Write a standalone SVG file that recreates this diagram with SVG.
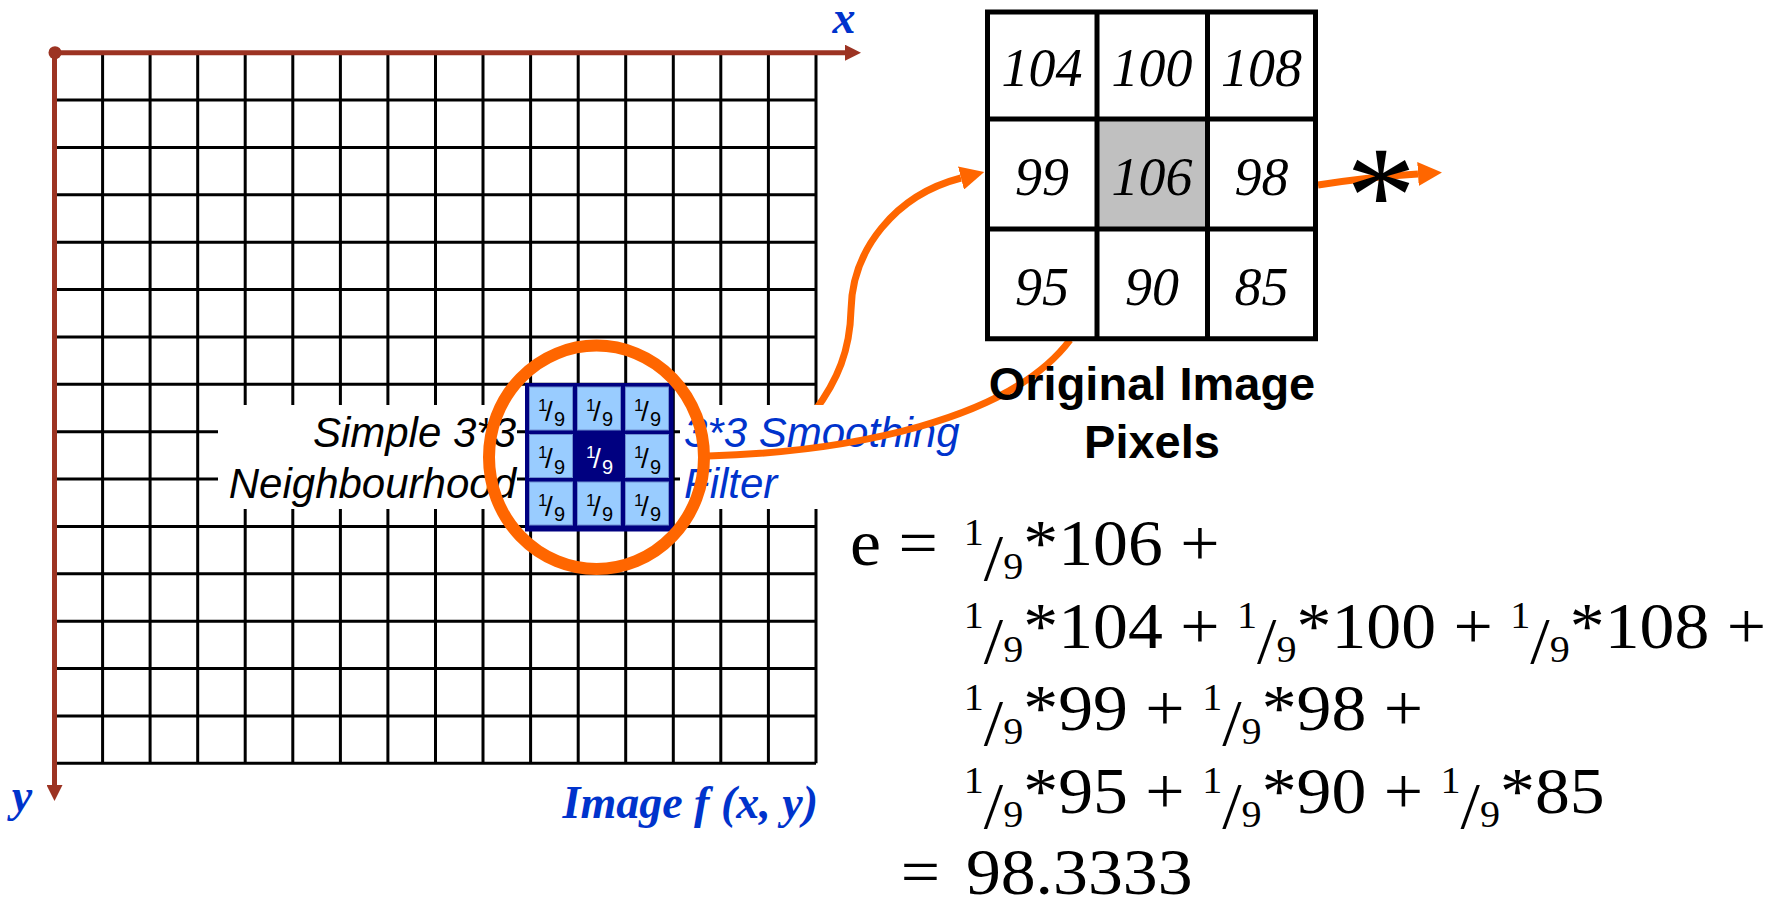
<svg xmlns="http://www.w3.org/2000/svg" xmlns:xlink="http://www.w3.org/1999/xlink" width="1779" height="902" viewBox="0 0 1779 902">
<style>
.grid{fill:none;stroke:#000;stroke-width:3}
.axis{fill:none;stroke:#9C3322;stroke-width:5}
.org{fill:none;stroke:#FF6600;stroke-width:7}
.lbl{font-family:"Liberation Sans",Arial,sans-serif;font-style:italic;font-size:42px}
.blue{fill:#0033CC}
.axl{font-family:"Liberation Serif","Times New Roman",serif;font-style:italic;font-weight:bold;font-size:46px;fill:#0033CC}
.px{font-family:"Liberation Serif","Times New Roman",serif;font-style:italic;font-size:54px;text-anchor:middle}
.eq{font-family:"Liberation Serif","Times New Roman",serif;font-size:66px;fill:#000}
.s{font-size:38px}
.cell{fill:#99CCFF;stroke:#6F8FD0;stroke-width:1}
.fr{font-family:"Liberation Sans",Arial,sans-serif}
.bold{font-family:"Liberation Sans",Arial,sans-serif;font-weight:bold;font-size:47px;text-anchor:middle}
</style>
<defs>
<marker id="ah" markerUnits="userSpaceOnUse" markerWidth="24" markerHeight="24" viewBox="0 0 24 24" refX="0" refY="12" orient="auto"><path d="M0,0 L24,12 L0,24 z" fill="#FF6600"/></marker>
<marker id="axh" markerUnits="userSpaceOnUse" markerWidth="16" markerHeight="16" viewBox="0 0 16 16" refX="0" refY="8" orient="auto"><path d="M0,0 L16,8 L0,16 z" fill="#9C3322"/></marker>
<g id="frac" class="fr"><text x="-13" y="2" font-size="17">1</text><text x="-6" y="12" font-size="28">/</text><text x="3" y="17.5" font-size="20">9</text></g>
</defs>

<g id="image-grid">
<path class="grid" d="M55 100.1H816M55 147.4H816M55 194.8H816M55 242.2H816M55 289.6H816M55 336.9H816M55 384.3H816M55 431.7H816M55 479.1H816M55 526.4H816M55 573.8H816M55 621.2H816M55 668.5H816M55 715.9H816M55 763.3H816M102.6 52.7V763.3M150.1 52.7V763.3M197.7 52.7V763.3M245.2 52.7V763.3M292.8 52.7V763.3M340.4 52.7V763.3M387.9 52.7V763.3M435.5 52.7V763.3M483 52.7V763.3M530.6 52.7V763.3M578.2 52.7V763.3M625.7 52.7V763.3M673.3 52.7V763.3M720.8 52.7V763.3M768.4 52.7V763.3M816 52.7V763.3"/>
</g>

<g id="axes">
<path class="axis" d="M55 52.7H845" marker-end="url(#axh)"/>
<path class="axis" d="M54.5 52.7V785" marker-end="url(#axh)"/>
<circle cx="55" cy="52.7" r="6.5" fill="#9C3322"/>
</g>

<g id="connectors">
<path class="org" d="M814 412 C838 380 850 350 851 310 C852 250 895 195 961 178" marker-end="url(#ah)"/>
</g>

<g id="filter">
<rect x="525" y="383" width="148.5" height="148.5" fill="#000080"/>
<rect class="cell" x="529.5" y="387" width="43" height="43"/>
<rect class="cell" x="577.5" y="387" width="43" height="43"/>
<rect class="cell" x="625.5" y="387" width="43" height="43"/>
<rect class="cell" x="529.5" y="434.5" width="43" height="43"/>
<rect class="cell" x="625.5" y="434.5" width="43" height="43"/>
<rect class="cell" x="529.5" y="482" width="43" height="43"/>
<rect class="cell" x="577.5" y="482" width="43" height="43"/>
<rect class="cell" x="625.5" y="482" width="43" height="43"/>
<use xlink:href="#frac" x="551" y="408.5" fill="#000"/>
<use xlink:href="#frac" x="599" y="408.5" fill="#000"/>
<use xlink:href="#frac" x="647" y="408.5" fill="#000"/>
<use xlink:href="#frac" x="551" y="456" fill="#000"/>
<use xlink:href="#frac" x="599" y="456" fill="#fff"/>
<use xlink:href="#frac" x="647" y="456" fill="#000"/>
<use xlink:href="#frac" x="551" y="503.5" fill="#000"/>
<use xlink:href="#frac" x="599" y="503.5" fill="#000"/>
<use xlink:href="#frac" x="647" y="503.5" fill="#000"/>
</g>

<g id="label-neighbourhood">
<rect x="218" y="405" width="299" height="104" fill="#fff"/>
<text class="lbl" x="516" y="447" text-anchor="end">Simple 3*3</text>
<text class="lbl" x="516" y="498" text-anchor="end">Neighbourhood</text>
</g>

<g id="label-filter">
<rect x="680" y="405" width="290" height="104" fill="#fff"/>
<text class="lbl blue" x="684" y="447">3*3 Smoothing</text>
<text class="lbl blue" x="684" y="498">Filter</text>
</g>

<g id="highlight-circle">
<ellipse cx="596.5" cy="457.3" rx="107.5" ry="111.7" fill="none" stroke="#FF6600" stroke-width="12"/>
</g>

<g id="connectors-2">
<path class="org" d="M708 456 C850 452 1010 420 1070 340"/>
<path class="org" d="M1318 185 C1350 180 1385 176 1418 174" marker-end="url(#ah)"/>
</g>

<g id="pixels">
<rect x="987.5" y="12" width="328" height="326.7" fill="#fff"/>
<rect x="1097" y="119" width="110.5" height="110" fill="#C0C0C0"/>
<path d="M987.5 12H1315.5V338.7H987.5Z M1097 12V338.7M1207.5 12V338.7M987.5 119H1315.5M987.5 229H1315.5" fill="none" stroke="#000" stroke-width="5"/>
<text class="px" x="1042" y="86">104</text>
<text class="px" x="1152" y="86">100</text>
<text class="px" x="1261.5" y="86">108</text>
<text class="px" x="1042" y="195">99</text>
<text class="px" x="1152" y="195">106</text>
<text class="px" x="1261.5" y="195">98</text>
<text class="px" x="1042" y="305">95</text>
<text class="px" x="1152" y="305">90</text>
<text class="px" x="1261.5" y="305">85</text>
<text class="bold" x="1152" y="400">Original Image</text>
<text class="bold" x="1152" y="458">Pixels</text>
</g>

<g id="operator">
<text x="1381" y="242" font-family="'Liberation Serif','Times New Roman',serif" font-size="140" text-anchor="middle">*</text>
</g>

<g id="equation" class="eq" transform="matrix(1.057 0 0 1 -55.18 0)">
<text y="565"><tspan x="856.4">e = </tspan><tspan x="964" y="545" class="s">1</tspan><tspan y="580">/</tspan><tspan y="579" class="s">9</tspan><tspan y="565">*106 +</tspan></text>
<text y="648"><tspan x="964" y="628" class="s">1</tspan><tspan y="663">/</tspan><tspan y="662" class="s">9</tspan><tspan y="648">*104 + </tspan><tspan y="628" class="s">1</tspan><tspan y="663">/</tspan><tspan y="662" class="s">9</tspan><tspan y="648">*100 + </tspan><tspan y="628" class="s">1</tspan><tspan y="663">/</tspan><tspan y="662" class="s">9</tspan><tspan y="648">*108 +</tspan></text>
<text y="730"><tspan x="964" y="710" class="s">1</tspan><tspan y="745">/</tspan><tspan y="744" class="s">9</tspan><tspan y="730">*99 + </tspan><tspan y="710" class="s">1</tspan><tspan y="745">/</tspan><tspan y="744" class="s">9</tspan><tspan y="730">*98 +</tspan></text>
<text y="813"><tspan x="964" y="793" class="s">1</tspan><tspan y="828">/</tspan><tspan y="827" class="s">9</tspan><tspan y="813">*95 + </tspan><tspan y="793" class="s">1</tspan><tspan y="828">/</tspan><tspan y="827" class="s">9</tspan><tspan y="813">*90 + </tspan><tspan y="793" class="s">1</tspan><tspan y="828">/</tspan><tspan y="827" class="s">9</tspan><tspan y="813">*85</tspan></text>
<text y="894"><tspan x="904.3">=</tspan><tspan x="966">98.3333</tspan></text>
</g>

<g id="axis-labels">
<text class="axl" x="844" y="33" text-anchor="middle">x</text>
<text class="axl" x="22" y="811" text-anchor="middle">y</text>
<text class="axl" x="818" y="818" text-anchor="end" font-size="47">Image f (x, y)</text>
</g>
</svg>
